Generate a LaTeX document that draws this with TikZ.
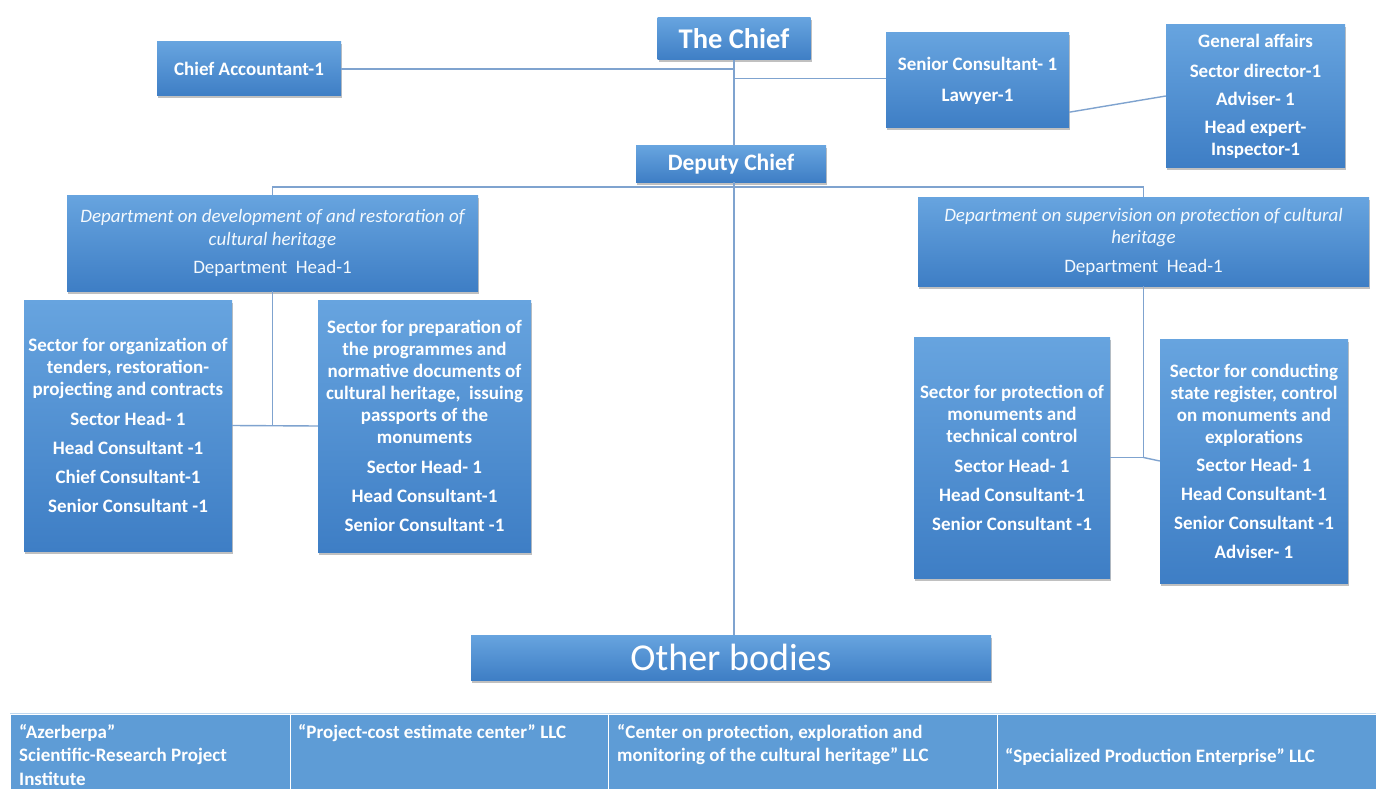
\documentclass[tikz,border=0pt]{standalone}
\usepackage{fontspec}
\setmainfont{Carlito}
\usetikzlibrary{shadows,calc}
\definecolor{boxtop}{HTML}{67A4DF}
\definecolor{boxbot}{HTML}{3E7EC5}
\definecolor{linkc}{HTML}{7FA3CF}
\definecolor{cellc}{HTML}{5E9CD6}
\tikzset{
  unit/.style={draw=none, top color=boxtop, bottom color=boxbot, text=white,
    font=\bfseries\fontsize{19}{22}\selectfont, align=center, inner sep=1pt,
    drop shadow={shadow xshift=1pt, shadow yshift=-2.5pt, opacity=0.35, fill=black!70}},
  dept/.style={unit, font=\fontsize{19}{22.5}\selectfont, text=white!93!boxtop},
  link/.style={draw=linkc, line width=1.4pt},
  cell/.style={fill=cellc, draw=white, line width=1pt},
  celltext/.style={text=white, font=\bfseries\fontsize{19}{23.5}\selectfont,
    align=left, anchor=north west, inner sep=0pt}
}
\begin{document}
\begin{tikzpicture}[x=1pt,y=-1pt]
\useasboundingbox (0,0) rectangle (1376,789);
\fill[white] (0,0) rectangle (1376,789);

% top management
\node[unit, minimum width=153pt, minimum height=42pt, font=\bfseries\fontsize{28.5}{30}\selectfont] (chief) at (734,39) {The Chief};
\node[unit, minimum width=184pt, minimum height=54pt] (acct) at (249,69) {Chief Accountant-1};
\node[unit, minimum width=183pt, minimum height=95pt, font=\bfseries\fontsize{19}{31}\selectfont] (sencons) at (977.5,80.5) {Senior Consultant- 1\\Lawyer-1};
\node[unit, minimum width=179pt, minimum height=142pt] (genaff) at (1255.5,96)
  {General affairs\\[8pt]Sector director-1\\[6pt]Adviser- 1\\[6pt]Head expert-\\Inspector-1};
\node[unit, minimum width=190pt, minimum height=36pt, font=\bfseries\fontsize{23.5}{25}\selectfont] (deputy) at (731,164) {Deputy Chief};

% departments
\node[dept, minimum width=411pt, minimum height=96pt] (deptL) at (272.5,243)
  {\itshape Department on development of and restoration of\\\itshape cultural heritage\\[6pt]Department\ \ Head-1};
\node[dept, minimum width=451pt, minimum height=89pt] (deptR) at (1143.5,241.5)
  {\itshape Department on supervision on protection of cultural\\\itshape heritage\\[6pt]Department\ \ Head-1};

% sectors
\node[unit, minimum width=208pt, minimum height=251pt] (secLa) at (128,425.5)
  {Sector for organization of\\tenders, restoration-\\projecting and contracts\\[8pt]Sector Head- 1\\[7pt]Head Consultant -1\\[7pt]Chief Consultant-1\\[7pt]Senior Consultant -1};
\node[unit, minimum width=213pt, minimum height=252pt] (secLb) at (424.5,426)
  {Sector for preparation of\\the programmes and\\normative documents of\\cultural heritage,\ \ issuing\\passports of the\\monuments\\[8pt]Sector Head- 1\\[7pt]Head Consultant-1\\[7pt]Senior Consultant -1};
\node[unit, minimum width=196pt, minimum height=241pt] (secRa) at (1012,457.5)
  {Sector for protection of\\monuments and\\technical control\\[8pt]Sector Head- 1\\[7pt]Head Consultant-1\\[7pt]Senior Consultant -1};
\node[unit, minimum width=188pt, minimum height=244pt] (secRb) at (1254,461)
  {Sector for conducting\\state register, control\\on monuments and\\explorations\\[6pt]Sector Head- 1\\[7pt]Head Consultant-1\\[7pt]Senior Consultant -1\\[7pt]Adviser- 1};

% other bodies
\node[unit, minimum width=520pt, minimum height=45pt, font=\fontsize{38}{40}\selectfont] (other) at (731,657.5) {Other bodies};

% connectors
\draw[link] (chief.south) -- (chief.south |- deputy.north);
\draw[link] (acct.east) -- (acct.east -| chief.south);
\draw[link] ($(sencons.west)+(0,-2)$) -- ($(sencons.west -| chief.south)+(0,-2)$);
\draw[link] ($(sencons.south east)+(0,-16)$) -- (genaff.west);
\draw[link] (deptL.north) -- ++(0,-8) coordinate (busL) -- (busL -| deptR.north) -- (deptR.north);
\draw[link] (deputy.south -| chief.south) -- (other.north -| chief.south);
\draw[link] (deptL.south) -- (deptL.south |- secLa.east);
\draw[link] (secLa.east) -- (secLb.west);
\draw[link] (deptR.south) |- (secRa.east);
\draw[link] (deptR.south |- secRa.east) -- (secRb.west);

% subordinate organisations
\fill[cellc!40] (10,713) rectangle (1376,715);
\node[cell, anchor=north west, minimum width=280pt, minimum height=75pt] (cellA) at (10,714) {};
\node[cell, anchor=north west, minimum width=318pt, minimum height=75pt] (cellB) at (290,714) {};
\node[cell, anchor=north west, minimum width=389pt, minimum height=75pt] (cellC) at (608,714) {};
\node[cell, anchor=north west, minimum width=379pt, minimum height=75pt] (cellD) at (997,714) {};
\node[celltext] (tA) at (19,724) {“Azerberpa”\\Scientific-Research Project\\Institute};
\node[celltext] (tB) at (298,724) {“Project-cost estimate center” LLC};
\node[celltext] (tC) at (617,724) {“Center on protection, exploration and\\monitoring of the cultural heritage” LLC};
\node[celltext] (tD) at (1005,748) {“Specialized Production Enterprise” LLC};
\end{tikzpicture}
\end{document}
